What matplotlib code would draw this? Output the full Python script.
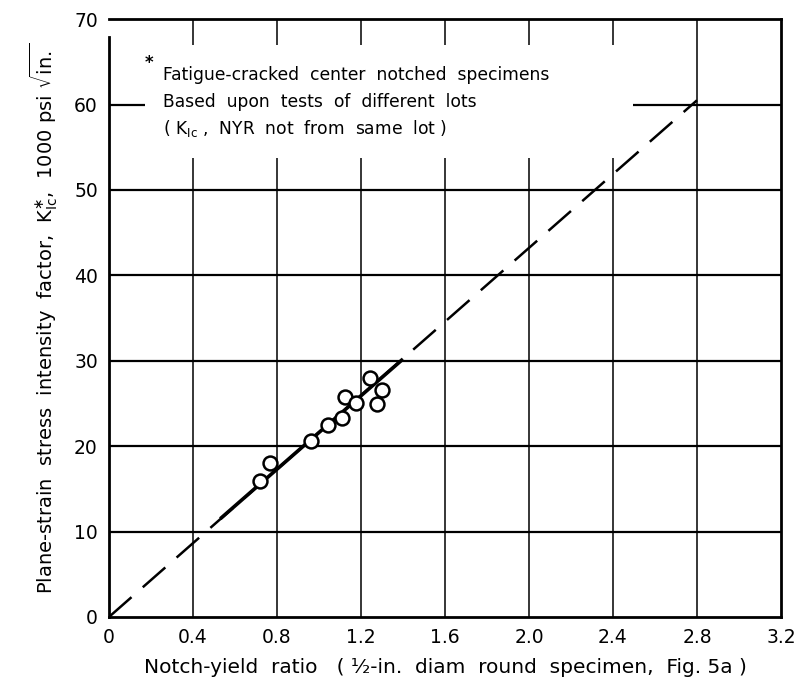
import matplotlib
matplotlib.use("Agg")
import matplotlib.pyplot as plt
from matplotlib.patches import Rectangle

# Notch-yield ratio vs plane-strain fracture toughness
nyr = [0.72, 0.765, 0.96, 1.045, 1.11, 1.125, 1.175, 1.245, 1.30, 1.275]
kic = [15.9, 18.0, 20.6, 22.5, 23.3, 25.8, 25.1, 28.0, 26.6, 24.9]

# Correlation lines
fit_x = [0.53, 1.40]
fit_y = [11.5, 30.2]
ext_x = [0.0, 2.8]
ext_y = [0.0, 60.5]

xticks = [0, 0.4, 0.8, 1.2, 1.6, 2.0, 2.4, 2.8, 3.2]
xtick_labels = ["0", "0.4", "0.8", "1.2", "1.6", "2.0", "2.4", "2.8", "3.2"]
yticks = [0, 10, 20, 30, 40, 50, 60, 70]
ytick_labels = ["0", "10", "20", "30", "40", "50", "60", "70"]

plt.rcParams["font.family"] = ["DejaVu Sans"]

fig = plt.figure(figsize=(8.03, 6.84), dpi=100)
ax = fig.add_axes([0.1357, 0.098, 0.8369, 0.874])
ax.set_xlim(0, 3.2)
ax.set_ylim(0, 70)

ax.set_xticks(xticks)
ax.set_xticklabels(xtick_labels, fontsize=13.5)
ax.set_yticks(yticks)
ax.set_yticklabels(ytick_labels, fontsize=13.5)
ax.tick_params(length=0, pad=8)

for x in xticks[1:-1]:
    ax.axvline(x, color="black", lw=1.1, zorder=1)
for y in yticks[1:-1]:
    ax.axhline(y, color="black", lw=1.6, zorder=1)

for s in ax.spines.values():
    s.set_linewidth(2.0)
ax.spines["left"].set_bounds(0, 67.9)

# blank panel behind the notes
ax.add_patch(Rectangle((0.17, 53.8), 2.325, 13.2, facecolor="white",
                       edgecolor="none", zorder=2))

ax.plot(ext_x, ext_y, color="black", lw=1.8, dashes=(12, 6), zorder=3)
ax.plot(fit_x, fit_y, color="black", lw=2.6, zorder=3, solid_capstyle="butt")
ax.plot(nyr, kic, linestyle="none", marker="o", ms=10, mfc="white",
        mec="black", mew=1.8, zorder=4)

ax.text(0.17, 64.9, "*", fontsize=12, fontweight="bold", ha="left",
        va="center", zorder=5)
ax.text(0.255, 63.5, "Fatigue-cracked  center  notched  specimens",
        fontsize=12.3, ha="left", va="center", zorder=5)
ax.text(0.255, 60.3, "Based  upon  tests  of  different  lots",
        fontsize=12.3, ha="left", va="center", zorder=5)
ax.text(0.255, 57.2, "( K$_{\\mathrm{Ic}}$ ,  NYR  not  from  same  lot )",
        fontsize=12.3, ha="left", va="center", zorder=5)

ax.set_xlabel("Notch-yield  ratio   ( ¹⁄₂-in.  diam  round  specimen,  Fig. 5a )",
              fontsize=14.5, labelpad=8)
ax.set_ylabel("Plane-strain  stress  intensity  factor,  K$_{\\mathrm{Ic}}^{\\ast}$,  1000 psi $\\sqrt{\\mathrm{in.}}$",
              fontsize=14, labelpad=10)

fig.savefig("out.png", dpi=100, facecolor="white")
